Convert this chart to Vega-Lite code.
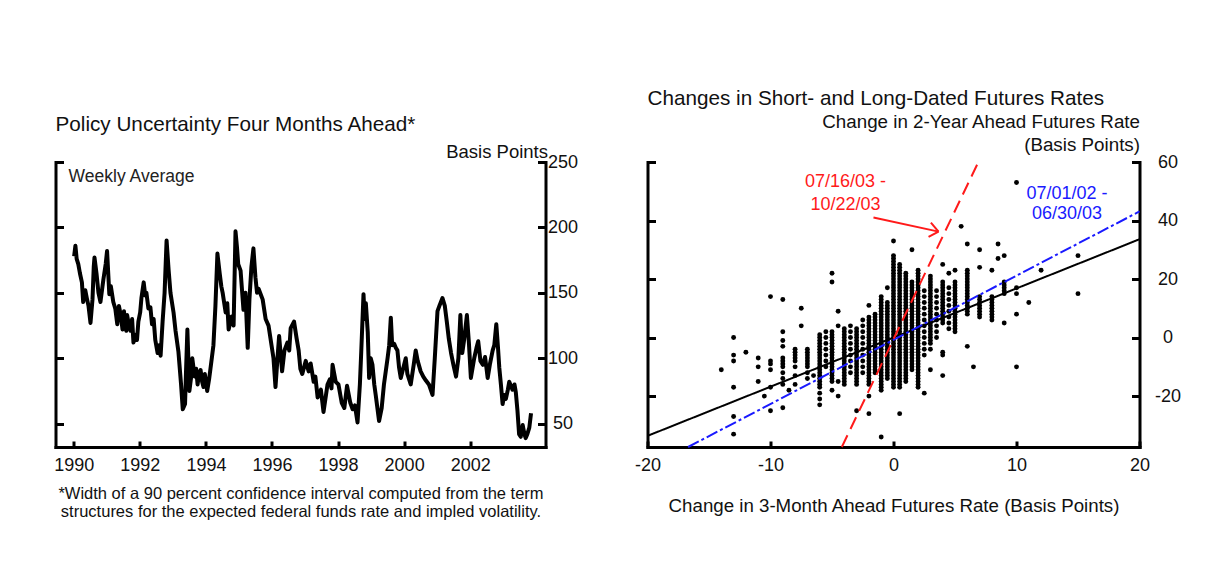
{
"$schema": "https://vega.github.io/schema/vega-lite/v6.json",
"background": "white",
"padding": {"left": 53.5, "top": 88, "right": 5, "bottom": 5},
"config": {
 "font": "Liberation Sans",
 "view": {"stroke": null},
 "axis": {"grid": false, "domainColor": "black", "domainWidth": 3, "domainCap": "square", "tickColor": "black", "tickWidth": 3, "tickSize": -7, "labelFont": "Liberation Sans", "labelFontSize": 18, "labelColor": "#111", "labelFlush": false, "labelOverlap": false, "titleFont": "Liberation Sans", "titleFontWeight": "normal", "titleColor": "#111", "titleFontSize": 18},
 "title": {"font": "Liberation Sans", "fontWeight": "normal", "color": "#111", "fontSize": 20.7, "anchor": "start", "frame": "group"}
},
"datasets": {
 "weekly": [
{"date":"1990-01-05","bp":178},{"date":"1990-01-19","bp":186},{"date":"1990-02-02","bp":176},{"date":"1990-02-20","bp":172},{"date":"1990-03-10","bp":165},{"date":"1990-04-01","bp":158},{"date":"1990-04-15","bp":143},{"date":"1990-05-08","bp":152},{"date":"1990-05-25","bp":146},{"date":"1990-06-13","bp":140},{"date":"1990-07-05","bp":127},{"date":"1990-07-27","bp":145},{"date":"1990-08-10","bp":170},{"date":"1990-08-18","bp":177},{"date":"1990-09-09","bp":165},{"date":"1990-10-01","bp":150},{"date":"1990-10-23","bp":143},{"date":"1990-11-24","bp":160},{"date":"1990-12-20","bp":172},{"date":"1991-01-04","bp":182},{"date":"1991-01-29","bp":149},{"date":"1991-02-15","bp":155},{"date":"1991-03-14","bp":143},{"date":"1991-04-05","bp":138},{"date":"1991-04-27","bp":126},{"date":"1991-05-15","bp":140},{"date":"1991-06-02","bp":134},{"date":"1991-06-24","bp":122},{"date":"1991-07-10","bp":136},{"date":"1991-07-20","bp":126},{"date":"1991-08-05","bp":121},{"date":"1991-08-14","bp":133},{"date":"1991-09-01","bp":126},{"date":"1991-09-20","bp":121},{"date":"1991-10-08","bp":130},{"date":"1991-10-23","bp":112},{"date":"1991-11-15","bp":118},{"date":"1991-12-01","bp":114},{"date":"1991-12-16","bp":128},{"date":"1992-01-05","bp":135},{"date":"1992-01-19","bp":146},{"date":"1992-02-13","bp":158},{"date":"1992-03-01","bp":148},{"date":"1992-03-14","bp":150},{"date":"1992-04-05","bp":138},{"date":"1992-04-27","bp":139},{"date":"1992-05-15","bp":126},{"date":"1992-06-02","bp":130},{"date":"1992-06-20","bp":114},{"date":"1992-07-16","bp":104},{"date":"1992-08-01","bp":110},{"date":"1992-08-18","bp":102},{"date":"1992-09-09","bp":128},{"date":"1992-10-01","bp":150},{"date":"1992-10-23","bp":190},{"date":"1992-11-14","bp":168},{"date":"1992-12-05","bp":150},{"date":"1993-01-08","bp":135},{"date":"1993-01-30","bp":121},{"date":"1993-03-03","bp":105},{"date":"1993-04-01","bp":80},{"date":"1993-04-20","bp":61},{"date":"1993-05-15","bp":65},{"date":"1993-05-26","bp":90},{"date":"1993-06-10","bp":122},{"date":"1993-07-02","bp":75},{"date":"1993-07-20","bp":85},{"date":"1993-08-03","bp":100},{"date":"1993-08-29","bp":86},{"date":"1993-09-15","bp":92},{"date":"1993-10-01","bp":80},{"date":"1993-10-15","bp":88},{"date":"1993-11-03","bp":91},{"date":"1993-11-20","bp":82},{"date":"1993-12-05","bp":78},{"date":"1993-12-20","bp":88},{"date":"1994-01-15","bp":75},{"date":"1994-02-05","bp":84},{"date":"1994-02-20","bp":92},{"date":"1994-03-25","bp":110},{"date":"1994-04-16","bp":140},{"date":"1994-05-08","bp":180},{"date":"1994-06-02","bp":165},{"date":"1994-06-20","bp":155},{"date":"1994-07-05","bp":150},{"date":"1994-08-07","bp":135},{"date":"1994-08-25","bp":142},{"date":"1994-09-09","bp":122},{"date":"1994-10-12","bp":132},{"date":"1994-11-03","bp":125},{"date":"1994-11-24","bp":197},{"date":"1994-12-10","bp":185},{"date":"1994-12-24","bp":172},{"date":"1995-01-19","bp":167},{"date":"1995-02-20","bp":137},{"date":"1995-03-14","bp":150},{"date":"1995-04-08","bp":108},{"date":"1995-04-27","bp":145},{"date":"1995-05-19","bp":170},{"date":"1995-06-10","bp":184},{"date":"1995-07-02","bp":162},{"date":"1995-07-20","bp":150},{"date":"1995-08-07","bp":153},{"date":"1995-09-20","bp":145},{"date":"1995-10-23","bp":130},{"date":"1995-11-24","bp":125},{"date":"1995-12-27","bp":110},{"date":"1996-01-18","bp":100},{"date":"1996-02-09","bp":78},{"date":"1996-03-02","bp":100},{"date":"1996-03-20","bp":117},{"date":"1996-04-04","bp":105},{"date":"1996-04-22","bp":90},{"date":"1996-05-18","bp":106},{"date":"1996-06-20","bp":112},{"date":"1996-07-10","bp":106},{"date":"1996-07-26","bp":123},{"date":"1996-09-01","bp":128},{"date":"1996-09-30","bp":115},{"date":"1996-10-22","bp":106},{"date":"1996-11-10","bp":92},{"date":"1996-12-01","bp":88},{"date":"1997-01-08","bp":98},{"date":"1997-02-10","bp":90},{"date":"1997-03-04","bp":96},{"date":"1997-04-06","bp":82},{"date":"1997-04-25","bp":86},{"date":"1997-05-20","bp":70},{"date":"1997-06-25","bp":76},{"date":"1997-07-24","bp":59},{"date":"1997-09-06","bp":80},{"date":"1997-10-02","bp":84},{"date":"1997-10-20","bp":77},{"date":"1997-11-01","bp":95},{"date":"1997-12-06","bp":82},{"date":"1998-01-05","bp":80},{"date":"1998-02-10","bp":66},{"date":"1998-03-11","bp":62},{"date":"1998-04-10","bp":79},{"date":"1998-05-16","bp":66},{"date":"1998-06-11","bp":61},{"date":"1998-07-06","bp":64},{"date":"1998-08-04","bp":51},{"date":"1998-08-30","bp":80},{"date":"1998-09-14","bp":105},{"date":"1998-10-09","bp":149},{"date":"1998-10-22","bp":130},{"date":"1998-11-04","bp":142},{"date":"1998-11-25","bp":120},{"date":"1998-12-10","bp":85},{"date":"1998-12-28","bp":100},{"date":"1999-01-16","bp":95},{"date":"1999-02-05","bp":80},{"date":"1999-02-21","bp":72},{"date":"1999-03-30","bp":52},{"date":"1999-04-28","bp":62},{"date":"1999-05-23","bp":80},{"date":"1999-07-02","bp":100},{"date":"1999-07-20","bp":110},{"date":"1999-08-07","bp":131},{"date":"1999-08-22","bp":110},{"date":"1999-09-13","bp":111},{"date":"1999-10-01","bp":108},{"date":"1999-10-19","bp":106},{"date":"1999-11-06","bp":93},{"date":"1999-11-25","bp":85},{"date":"2000-01-01","bp":95},{"date":"2000-01-19","bp":100},{"date":"2000-02-06","bp":88},{"date":"2000-03-14","bp":80},{"date":"2000-04-16","bp":95},{"date":"2000-05-08","bp":106},{"date":"2000-05-30","bp":98},{"date":"2000-07-02","bp":90},{"date":"2000-07-31","bp":86},{"date":"2000-08-29","bp":83},{"date":"2000-10-01","bp":80},{"date":"2000-11-10","bp":72},{"date":"2000-12-05","bp":100},{"date":"2001-01-04","bp":136},{"date":"2001-01-30","bp":141},{"date":"2001-02-28","bp":146},{"date":"2001-03-26","bp":140},{"date":"2001-04-17","bp":128},{"date":"2001-05-09","bp":115},{"date":"2001-06-03","bp":104},{"date":"2001-06-29","bp":95},{"date":"2001-07-28","bp":86},{"date":"2001-08-23","bp":100},{"date":"2001-09-14","bp":133},{"date":"2001-09-24","bp":118},{"date":"2001-10-05","bp":104},{"date":"2001-10-27","bp":115},{"date":"2001-11-25","bp":133},{"date":"2001-12-17","bp":112},{"date":"2002-01-08","bp":85},{"date":"2002-02-14","bp":100},{"date":"2002-03-11","bp":108},{"date":"2002-03-30","bp":113},{"date":"2002-04-24","bp":98},{"date":"2002-05-20","bp":95},{"date":"2002-06-14","bp":101},{"date":"2002-07-13","bp":85},{"date":"2002-08-08","bp":96},{"date":"2002-09-06","bp":106},{"date":"2002-09-24","bp":110},{"date":"2002-10-16","bp":126},{"date":"2002-11-04","bp":108},{"date":"2002-11-18","bp":93},{"date":"2002-12-06","bp":80},{"date":"2002-12-25","bp":65},{"date":"2003-01-12","bp":72},{"date":"2003-01-30","bp":69},{"date":"2003-02-21","bp":76},{"date":"2003-03-08","bp":82},{"date":"2003-03-26","bp":79},{"date":"2003-04-13","bp":76},{"date":"2003-05-05","bp":80},{"date":"2003-05-20","bp":74},{"date":"2003-06-07","bp":60},{"date":"2003-06-25","bp":42},{"date":"2003-07-13","bp":40},{"date":"2003-08-04","bp":49},{"date":"2003-08-23","bp":42},{"date":"2003-09-06","bp":39},{"date":"2003-09-24","bp":42},{"date":"2003-10-16","bp":47},{"date":"2003-11-04","bp":58}
 ],
 "pts": [
{"x":-14,"y":-11},{"x":-13,"y":0},{"x":-13,"y":-6},{"x":-13,"y":-8},{"x":-13,"y":-17},{"x":-13,"y":-27},{"x":-13,"y":-33},{"x":-12,"y":-5},{"x":-11,"y":-7},{"x":-11,"y":-10},{"x":-11,"y":-15},{"x":-10.5,"y":-20},
{"x":-10,"y":14},{"x":-10,"y":-8},{"x":-10,"y":-9},{"x":-10,"y":-11},{"x":-10,"y":-17},{"x":-10,"y":-25},
{"x":-9,"y":13},{"x":-9,"y":2},{"x":-9,"y":-1},{"x":-9,"y":-3},{"x":-9,"y":-7},{"x":-9,"y":-8},{"x":-9,"y":-9},{"x":-9,"y":-10},{"x":-9,"y":-12},{"x":-9,"y":-14},{"x":-9,"y":-16},{"x":-9,"y":-24},{"x":-8.5,"y":-18},
{"x":-8,"y":-4},{"x":-8,"y":-5},{"x":-8,"y":-6},{"x":-8,"y":-7},{"x":-8,"y":-8},{"x":-8,"y":-10},{"x":-8,"y":-13},{"x":-8,"y":-16},{"x":-7.5,"y":10},{"x":-7.5,"y":4},
{"x":-7,"y":-4},{"x":-7,"y":-5},{"x":-7,"y":-6},{"x":-7,"y":-7},{"x":-7,"y":-8},{"x":-7,"y":-9},{"x":-7,"y":-10},{"x":-7,"y":-12},{"x":-7,"y":-14},{"x":-6.5,"y":-13},
{"x":-6,"y":1},{"x":-6,"y":0},{"x":-6,"y":-1},{"x":-6,"y":-2},{"x":-6,"y":-3},{"x":-6,"y":-4},{"x":-6,"y":-5},{"x":-6,"y":-6},{"x":-6,"y":-7},{"x":-6,"y":-8},{"x":-6,"y":-9},{"x":-6,"y":-10},{"x":-6,"y":-11},{"x":-6,"y":-12},{"x":-6,"y":-13},{"x":-6,"y":-14},{"x":-6,"y":-15},{"x":-6,"y":-16},{"x":-6,"y":-17},{"x":-6,"y":-19},{"x":-6,"y":-21},{"x":-6,"y":-23},
{"x":-5.5,"y":2},{"x":-5.5,"y":0},{"x":-5.5,"y":-2},{"x":-5.5,"y":-4},{"x":-5.5,"y":-6},{"x":-5.5,"y":-8},{"x":-5.5,"y":-10},
{"x":-5,"y":22},{"x":-5,"y":19},{"x":-5,"y":2},{"x":-5,"y":1},{"x":-5,"y":0},{"x":-5,"y":-1},{"x":-5,"y":-2},{"x":-5,"y":-3},{"x":-5,"y":-4},{"x":-5,"y":-5},{"x":-5,"y":-6},{"x":-5,"y":-7},{"x":-5,"y":-8},{"x":-5,"y":-9},{"x":-5,"y":-10},{"x":-5,"y":-11},{"x":-5,"y":-12},{"x":-5,"y":-13},{"x":-5,"y":-14},{"x":-5,"y":-15},{"x":-5,"y":-18},
{"x":-4.5,"y":9},{"x":-4.5,"y":4},{"x":-4.5,"y":-15},{"x":-4.5,"y":-20},
{"x":-4,"y":3},{"x":-4,"y":2},{"x":-4,"y":1},{"x":-4,"y":0},{"x":-4,"y":-1},{"x":-4,"y":-2},{"x":-4,"y":-3},{"x":-4,"y":-4},{"x":-4,"y":-5},{"x":-4,"y":-6},{"x":-4,"y":-7},{"x":-4,"y":-8},{"x":-4,"y":-9},{"x":-4,"y":-10},{"x":-4,"y":-11},{"x":-4,"y":-12},{"x":-4,"y":-13},{"x":-4,"y":-14},{"x":-4,"y":-15},{"x":-4,"y":-16},
{"x":-3.5,"y":4},{"x":-3.5,"y":2},{"x":-3.5,"y":0},{"x":-3.5,"y":-2},{"x":-3.5,"y":-4},{"x":-3.5,"y":-6},{"x":-3.5,"y":-8},{"x":-3.5,"y":-10},{"x":-3.5,"y":-12},
{"x":-3,"y":3},{"x":-3,"y":2},{"x":-3,"y":1},{"x":-3,"y":0},{"x":-3,"y":-1},{"x":-3,"y":-2},{"x":-3,"y":-3},{"x":-3,"y":-4},{"x":-3,"y":-5},{"x":-3,"y":-6},{"x":-3,"y":-7},{"x":-3,"y":-8},{"x":-3,"y":-9},{"x":-3,"y":-10},{"x":-3,"y":-11},{"x":-3,"y":-12},{"x":-3,"y":-13},{"x":-3,"y":-14},{"x":-3,"y":-15},{"x":-3,"y":-16},{"x":-3,"y":-25},
{"x":-2.5,"y":6},{"x":-2.5,"y":4},{"x":-2.5,"y":2},{"x":-2.5,"y":0},{"x":-2.5,"y":-2},{"x":-2.5,"y":-4},{"x":-2.5,"y":-6},{"x":-2.5,"y":-8},{"x":-2.5,"y":-10},{"x":-2.5,"y":-12},
{"x":-2,"y":11},{"x":-2,"y":7},{"x":-2,"y":6},{"x":-2,"y":5},{"x":-2,"y":4},{"x":-2,"y":3},{"x":-2,"y":2},{"x":-2,"y":1},{"x":-2,"y":0},{"x":-2,"y":-1},{"x":-2,"y":-2},{"x":-2,"y":-3},{"x":-2,"y":-4},{"x":-2,"y":-5},{"x":-2,"y":-6},{"x":-2,"y":-7},{"x":-2,"y":-8},{"x":-2,"y":-9},{"x":-2,"y":-10},{"x":-2,"y":-11},{"x":-2,"y":-12},{"x":-2,"y":-13},{"x":-2,"y":-14},{"x":-2,"y":-15},{"x":-2,"y":-16},{"x":-2,"y":-20},{"x":-2,"y":-26},
{"x":-1.5,"y":8},{"x":-1.5,"y":7},{"x":-1.5,"y":6},{"x":-1.5,"y":5},{"x":-1.5,"y":4},{"x":-1.5,"y":3},{"x":-1.5,"y":2},{"x":-1.5,"y":1},{"x":-1.5,"y":0},{"x":-1.5,"y":-1},{"x":-1.5,"y":-2},{"x":-1.5,"y":-3},{"x":-1.5,"y":-4},{"x":-1.5,"y":-5},{"x":-1.5,"y":-6},{"x":-1.5,"y":-7},{"x":-1.5,"y":-8},{"x":-1.5,"y":-9},{"x":-1.5,"y":-10},{"x":-1.5,"y":-11},{"x":-1.5,"y":-12},
{"x":-1,"y":14},{"x":-1,"y":13},{"x":-1,"y":12},{"x":-1,"y":11},{"x":-1,"y":10},{"x":-1,"y":9},{"x":-1,"y":8},{"x":-1,"y":7},{"x":-1,"y":6},{"x":-1,"y":5},{"x":-1,"y":4},{"x":-1,"y":3},{"x":-1,"y":2},{"x":-1,"y":1},{"x":-1,"y":0},{"x":-1,"y":-1},{"x":-1,"y":-2},{"x":-1,"y":-3},{"x":-1,"y":-4},{"x":-1,"y":-5},{"x":-1,"y":-6},{"x":-1,"y":-7},{"x":-1,"y":-8},{"x":-1,"y":-9},{"x":-1,"y":-10},{"x":-1,"y":-11},{"x":-1,"y":-12},{"x":-1,"y":-13},{"x":-1,"y":-14},{"x":-1,"y":-15},{"x":-1,"y":-16},{"x":-1,"y":-17},{"x":-1,"y":-18},{"x":-1,"y":-34},
{"x":-0.5,"y":17},{"x":-0.5,"y":12},{"x":-0.5,"y":11},{"x":-0.5,"y":10},{"x":-0.5,"y":9},{"x":-0.5,"y":8},{"x":-0.5,"y":7},{"x":-0.5,"y":6},{"x":-0.5,"y":5},{"x":-0.5,"y":4},{"x":-0.5,"y":3},{"x":-0.5,"y":2},{"x":-0.5,"y":1},{"x":-0.5,"y":0},{"x":-0.5,"y":-1},{"x":-0.5,"y":-2},{"x":-0.5,"y":-3},{"x":-0.5,"y":-4},{"x":-0.5,"y":-5},{"x":-0.5,"y":-6},{"x":-0.5,"y":-7},{"x":-0.5,"y":-8},{"x":-0.5,"y":-9},{"x":-0.5,"y":-10},{"x":-0.5,"y":-11},{"x":-0.5,"y":-12},{"x":-0.5,"y":-13},{"x":-0.5,"y":-14},
{"x":0,"y":33},{"x":0,"y":28},{"x":0,"y":27},{"x":0,"y":26},{"x":0,"y":25},{"x":0,"y":24},{"x":0,"y":23},{"x":0,"y":22},{"x":0,"y":21},{"x":0,"y":20},{"x":0,"y":19},{"x":0,"y":18},{"x":0,"y":17},{"x":0,"y":16},{"x":0,"y":15},{"x":0,"y":14},{"x":0,"y":13},{"x":0,"y":12},{"x":0,"y":11},{"x":0,"y":10},{"x":0,"y":9},{"x":0,"y":8},{"x":0,"y":7},{"x":0,"y":6},{"x":0,"y":5},{"x":0,"y":4},{"x":0,"y":3},{"x":0,"y":2},{"x":0,"y":1},{"x":0,"y":0},{"x":0,"y":-1},{"x":0,"y":-2},{"x":0,"y":-3},{"x":0,"y":-4},{"x":0,"y":-5},{"x":0,"y":-6},{"x":0,"y":-7},{"x":0,"y":-8},{"x":0,"y":-9},{"x":0,"y":-10},{"x":0,"y":-11},{"x":0,"y":-12},{"x":0,"y":-13},{"x":0,"y":-14},{"x":0,"y":-15},{"x":0,"y":-16},{"x":0,"y":-17},
{"x":0.5,"y":25},{"x":0.5,"y":24},{"x":0.5,"y":23},{"x":0.5,"y":22},{"x":0.5,"y":21},{"x":0.5,"y":20},{"x":0.5,"y":19},{"x":0.5,"y":18},{"x":0.5,"y":17},{"x":0.5,"y":16},{"x":0.5,"y":15},{"x":0.5,"y":14},{"x":0.5,"y":13},{"x":0.5,"y":12},{"x":0.5,"y":11},{"x":0.5,"y":10},{"x":0.5,"y":9},{"x":0.5,"y":8},{"x":0.5,"y":7},{"x":0.5,"y":6},{"x":0.5,"y":5},{"x":0.5,"y":4},{"x":0.5,"y":3},{"x":0.5,"y":2},{"x":0.5,"y":1},{"x":0.5,"y":0},{"x":0.5,"y":-1},{"x":0.5,"y":-2},{"x":0.5,"y":-3},{"x":0.5,"y":-4},{"x":0.5,"y":-5},{"x":0.5,"y":-6},{"x":0.5,"y":-7},{"x":0.5,"y":-8},{"x":0.5,"y":-9},{"x":0.5,"y":-10},{"x":0.5,"y":-11},{"x":0.5,"y":-12},{"x":0.5,"y":-13},{"x":0.5,"y":-14},{"x":0.5,"y":-15},{"x":0.5,"y":-16},{"x":0.5,"y":-17},{"x":0.5,"y":-26},
{"x":1,"y":22},{"x":1,"y":21},{"x":1,"y":20},{"x":1,"y":19},{"x":1,"y":18},{"x":1,"y":17},{"x":1,"y":16},{"x":1,"y":15},{"x":1,"y":14},{"x":1,"y":13},{"x":1,"y":12},{"x":1,"y":11},{"x":1,"y":10},{"x":1,"y":9},{"x":1,"y":8},{"x":1,"y":7},{"x":1,"y":6},{"x":1,"y":5},{"x":1,"y":4},{"x":1,"y":3},{"x":1,"y":2},{"x":1,"y":1},{"x":1,"y":0},{"x":1,"y":-1},{"x":1,"y":-2},{"x":1,"y":-3},{"x":1,"y":-4},{"x":1,"y":-5},{"x":1,"y":-6},{"x":1,"y":-7},{"x":1,"y":-8},{"x":1,"y":-9},{"x":1,"y":-10},{"x":1,"y":-11},{"x":1,"y":-12},{"x":1,"y":-13},{"x":1,"y":-14},{"x":1,"y":-15},
{"x":1.5,"y":30},{"x":1.5,"y":19},{"x":1.5,"y":18},{"x":1.5,"y":17},{"x":1.5,"y":16},{"x":1.5,"y":15},{"x":1.5,"y":14},{"x":1.5,"y":13},{"x":1.5,"y":12},{"x":1.5,"y":11},{"x":1.5,"y":10},{"x":1.5,"y":9},{"x":1.5,"y":8},{"x":1.5,"y":7},{"x":1.5,"y":6},{"x":1.5,"y":5},{"x":1.5,"y":4},{"x":1.5,"y":3},{"x":1.5,"y":2},{"x":1.5,"y":1},{"x":1.5,"y":0},{"x":1.5,"y":-1},{"x":1.5,"y":-2},{"x":1.5,"y":-3},{"x":1.5,"y":-4},{"x":1.5,"y":-5},{"x":1.5,"y":-6},{"x":1.5,"y":-7},{"x":1.5,"y":-8},{"x":1.5,"y":-9},{"x":1.5,"y":-10},{"x":1.5,"y":-11},
{"x":2,"y":23},{"x":2,"y":22},{"x":2,"y":21},{"x":2,"y":20},{"x":2,"y":19},{"x":2,"y":18},{"x":2,"y":17},{"x":2,"y":16},{"x":2,"y":15},{"x":2,"y":14},{"x":2,"y":13},{"x":2,"y":12},{"x":2,"y":11},{"x":2,"y":10},{"x":2,"y":9},{"x":2,"y":8},{"x":2,"y":7},{"x":2,"y":6},{"x":2,"y":5},{"x":2,"y":4},{"x":2,"y":3},{"x":2,"y":2},{"x":2,"y":1},{"x":2,"y":0},{"x":2,"y":-1},{"x":2,"y":-2},{"x":2,"y":-3},{"x":2,"y":-4},{"x":2,"y":-5},{"x":2,"y":-6},{"x":2,"y":-7},{"x":2,"y":-8},{"x":2,"y":-9},{"x":2,"y":-10},{"x":2,"y":-11},{"x":2,"y":-12},{"x":2,"y":-13},{"x":2,"y":-14},{"x":2,"y":-15},{"x":2,"y":-16},{"x":2,"y":-17},
{"x":2.5,"y":16},{"x":2.5,"y":14},{"x":2.5,"y":12},{"x":2.5,"y":10},{"x":2.5,"y":8},{"x":2.5,"y":6},{"x":2.5,"y":4},{"x":2.5,"y":2},{"x":2.5,"y":0},{"x":2.5,"y":-2},{"x":2.5,"y":-4},{"x":2.5,"y":-6},{"x":2.5,"y":-19},
{"x":3,"y":21},{"x":3,"y":20},{"x":3,"y":19},{"x":3,"y":18},{"x":3,"y":17},{"x":3,"y":16},{"x":3,"y":15},{"x":3,"y":14},{"x":3,"y":13},{"x":3,"y":12},{"x":3,"y":11},{"x":3,"y":10},{"x":3,"y":9},{"x":3,"y":8},{"x":3,"y":7},{"x":3,"y":6},{"x":3,"y":5},{"x":3,"y":4},{"x":3,"y":3},{"x":3,"y":2},{"x":3,"y":1},{"x":3,"y":0},{"x":3,"y":-1},{"x":3,"y":-2},{"x":3,"y":-4},{"x":3,"y":-11},
{"x":3.5,"y":16},{"x":3.5,"y":14},{"x":3.5,"y":12},{"x":3.5,"y":10},{"x":3.5,"y":8},{"x":3.5,"y":6},{"x":3.5,"y":4},{"x":3.5,"y":2},{"x":3.5,"y":0},
{"x":4,"y":25},{"x":4,"y":19},{"x":4,"y":18},{"x":4,"y":17},{"x":4,"y":16},{"x":4,"y":15},{"x":4,"y":14},{"x":4,"y":13},{"x":4,"y":12},{"x":4,"y":11},{"x":4,"y":10},{"x":4,"y":9},{"x":4,"y":8},{"x":4,"y":7},{"x":4,"y":6},{"x":4,"y":5},{"x":4,"y":-5},{"x":4,"y":-6},{"x":4,"y":-13},
{"x":4.5,"y":22},{"x":4.5,"y":17},{"x":4.5,"y":15},{"x":4.5,"y":13},{"x":4.5,"y":11},{"x":4.5,"y":9},{"x":4.5,"y":7},{"x":4.5,"y":5},{"x":4.5,"y":3},
{"x":5,"y":23},{"x":5,"y":19},{"x":5,"y":18},{"x":5,"y":17},{"x":5,"y":16},{"x":5,"y":15},{"x":5,"y":14},{"x":5,"y":13},{"x":5,"y":12},{"x":5,"y":11},{"x":5,"y":10},{"x":5,"y":9},{"x":5,"y":8},{"x":5,"y":7},{"x":5,"y":6},{"x":5,"y":5},{"x":5,"y":4},{"x":5,"y":3},{"x":5,"y":2},{"x":5.5,"y":38},
{"x":6,"y":32},{"x":6,"y":23},{"x":6,"y":22},{"x":6,"y":21},{"x":6,"y":20},{"x":6,"y":19},{"x":6,"y":18},{"x":6,"y":17},{"x":6,"y":16},{"x":6,"y":15},{"x":6,"y":14},{"x":6,"y":13},{"x":6,"y":12},{"x":6,"y":11},{"x":6,"y":10},{"x":6,"y":9},{"x":6,"y":8},{"x":6,"y":-3},{"x":6.5,"y":-10},
{"x":7,"y":30},{"x":7,"y":24},{"x":7,"y":14},{"x":7,"y":13},{"x":7,"y":12},{"x":7,"y":11},{"x":7,"y":10},{"x":7,"y":9},{"x":7,"y":8},{"x":7,"y":7},
{"x":8,"y":23},{"x":8,"y":14},{"x":8,"y":13},{"x":8,"y":12},{"x":8,"y":11},{"x":8,"y":10},{"x":8,"y":9},{"x":8,"y":8},{"x":8,"y":7},{"x":8,"y":6},{"x":8.5,"y":32},{"x":8.5,"y":27},
{"x":9,"y":28},{"x":9,"y":19},{"x":9,"y":18},{"x":9,"y":17},{"x":9,"y":16},{"x":9,"y":15},{"x":9,"y":5},
{"x":10,"y":53},{"x":10,"y":17},{"x":10,"y":15},{"x":10,"y":8},{"x":10,"y":-10},{"x":11,"y":12},{"x":12,"y":23},{"x":15,"y":28},{"x":15,"y":15}
 ]
},
"hconcat": [
 {
  "width": 490, "height": 285,
  "title": {"text": "Policy Uncertainty Four Months Ahead*", "offset": 6},
  "layer": [
   {
    "data": {"name": "weekly"},
    "mark": {"type": "line", "color": "black", "strokeWidth": 4, "strokeJoin": "round"},
    "encoding": {
     "x": {"field": "date", "type": "temporal", "scale": {"domain": ["1989-06-13", "2004-04-12"]},
      "axis": {"values": [{"year":1990},{"year":1991},{"year":1992},{"year":1993},{"year":1994},{"year":1995},{"year":1996},{"year":1997},{"year":1998},{"year":1999},{"year":2000},{"year":2001},{"year":2002},{"year":2003}],
       "format": "%Y", "labelExpr": "year(datum.value) % 2 == 0 ? datum.label : ''", "tickSize": -6, "labelPadding": 15,
       "title": ["*Width of a 90 percent confidence interval computed from the term", "structures for the expected federal funds rate and impled volatility."],
       "titleFontSize": 16.5, "titleLineHeight": 18, "titlePadding": 11}},
     "y": {"field": "bp", "type": "quantitative", "scale": {"domain": [32.2, 250], "nice": false, "zero": false},
      "axis": {"orient": "left", "values": [50, 100, 150, 200, 250], "labels": false, "title": null, "tickSize": -8}}
    }
   },
   {
    "data": {"name": "weekly"},
    "mark": {"type": "line", "opacity": 0},
    "encoding": {
     "x": {"field": "date", "type": "temporal"},
     "y": {"field": "bp", "type": "quantitative",
      "axis": {"orient": "right", "values": [50, 100, 150, 200, 250], "tickSize": -8, "labelPadding": 25, "labelAlign": "center", "title": "Basis Points", "titleAngle": 0, "titleAlign": "right", "titleBaseline": "alphabetic", "titleX": 2, "titleY": -5, "titleFontSize": 18.5}}
    }
   },
   {
    "data": {"values": [{"date": "1989-11-05", "bp": 235, "label": "Weekly Average"}]},
    "mark": {"type": "text", "align": "left", "baseline": "alphabetic", "fontSize": 17.5, "color": "#222"},
    "encoding": {
     "x": {"field": "date", "type": "temporal"},
     "y": {"field": "bp", "type": "quantitative", "axis": null},
     "text": {"field": "label"}
    }
   }
  ],
  "resolve": {"axis": {"y": "independent"}}
 },
 {
  "width": 492, "height": 285,
  "title": {"text": "Changes in Short- and Long-Dated Futures Rates", "offset": 2},
  "layer": [
   {
    "mark": {"type": "rule", "color": "black", "strokeWidth": 1.5},
    "encoding": {"y": {"datum": 0, "type": "quantitative", "axis": null}}
   },
   {
    "mark": {"type": "rule", "color": "black", "strokeWidth": 1.5},
    "encoding": {"x": {"datum": 0, "type": "quantitative"}}
   },
   {
    "data": {"name": "pts"},
    "mark": {"type": "circle", "color": "black", "size": 24, "opacity": 1},
    "encoding": {
     "x": {"field": "x", "type": "quantitative", "scale": {"domain": [-20, 20], "nice": false, "zero": false},
      "axis": {"values": [-20, -10, 0, 10, 20], "labelExpr": "'' + datum.value", "tickSize": -6, "labelPadding": 15, "title": "Change in 3-Month Ahead Futures Rate (Basis Points)", "titlePadding": 22, "titleFontSize": 18.7}},
     "y": {"field": "y", "type": "quantitative", "scale": {"domain": [-37.4, 60], "nice": false, "zero": false},
      "axis": {"orient": "left", "values": [-20, 0, 20, 40, 60], "labels": false, "title": null, "tickSize": -8}}
    }
   },
   {
    "data": {"values": [
     {"period": "Full sample", "x": -20, "y": -33.6}, {"period": "Full sample", "x": 20, "y": 33.6},
     {"period": "07/01/02 - 06/30/03", "x": -16.7, "y": -37.4}, {"period": "07/01/02 - 06/30/03", "x": 20, "y": 43.1},
     {"period": "07/16/03 - 10/22/03", "x": -4.2, "y": -37.4}, {"period": "07/16/03 - 10/22/03", "x": 6.9, "y": 60}
    ]},
    "mark": {"type": "line", "strokeWidth": 2},
    "encoding": {
     "x": {"field": "x", "type": "quantitative"},
     "y": {"field": "y", "type": "quantitative",
      "axis": {"orient": "right", "values": [-20, 0, 20, 40, 60], "labelExpr": "'' + datum.value", "tickSize": -8, "labelPadding": 36, "labelAlign": "center",
       "title": ["Change in 2-Year Ahead Futures Rate", "(Basis Points)"], "titleAngle": 0, "titleAlign": "right", "titleBaseline": "alphabetic", "titleX": 0, "titleY": -35, "titleLineHeight": 23, "titleFontSize": 18.8}},
     "color": {"field": "period", "type": "nominal", "legend": null,
      "scale": {"domain": ["Full sample", "07/01/02 - 06/30/03", "07/16/03 - 10/22/03"], "range": ["black", "#1a1aff", "#ff1a1a"]}},
     "strokeDash": {"field": "period", "type": "nominal", "legend": null,
      "scale": {"domain": ["Full sample", "07/01/02 - 06/30/03", "07/16/03 - 10/22/03"], "range": [[1, 0], [12, 3, 3, 3], [13, 7]]}},
     "detail": {"field": "period"}
    }
   },
   {
    "data": {"values": [
     {"period": "07/16/03 - 10/22/03", "x": -3.9, "y": 53, "t": "07/16/03 -"},
     {"period": "07/16/03 - 10/22/03", "x": -3.9, "y": 45.4, "t": "10/22/03"},
     {"period": "07/01/02 - 06/30/03", "x": 14.1, "y": 49, "t": "07/01/02 -"},
     {"period": "07/01/02 - 06/30/03", "x": 14.1, "y": 42.2, "t": "06/30/03"}
    ]},
    "mark": {"type": "text", "fontSize": 18, "align": "center", "baseline": "middle"},
    "encoding": {
     "x": {"field": "x", "type": "quantitative"},
     "y": {"field": "y", "type": "quantitative", "axis": null},
     "text": {"field": "t"},
     "color": {"field": "period", "type": "nominal", "legend": null}
    }
   },
   {
    "data": {"values": [
     {"x": -1.63, "y": 41, "x2": 3.66, "y2": 36.2},
     {"x": 3.04, "y": 39.3, "x2": 3.66, "y2": 36.2},
     {"x": 2.85, "y": 34.4, "x2": 3.66, "y2": 36.2}
    ]},
    "mark": {"type": "rule", "color": "#ff1a1a", "strokeWidth": 2},
    "encoding": {
     "x": {"field": "x", "type": "quantitative"},
     "y": {"field": "y", "type": "quantitative", "axis": null},
     "x2": {"field": "x2"},
     "y2": {"field": "y2"}
    }
   }
  ],
  "resolve": {"axis": {"y": "independent"}}
 }
],
"spacing": 102,
"bounds": "flush"
}
